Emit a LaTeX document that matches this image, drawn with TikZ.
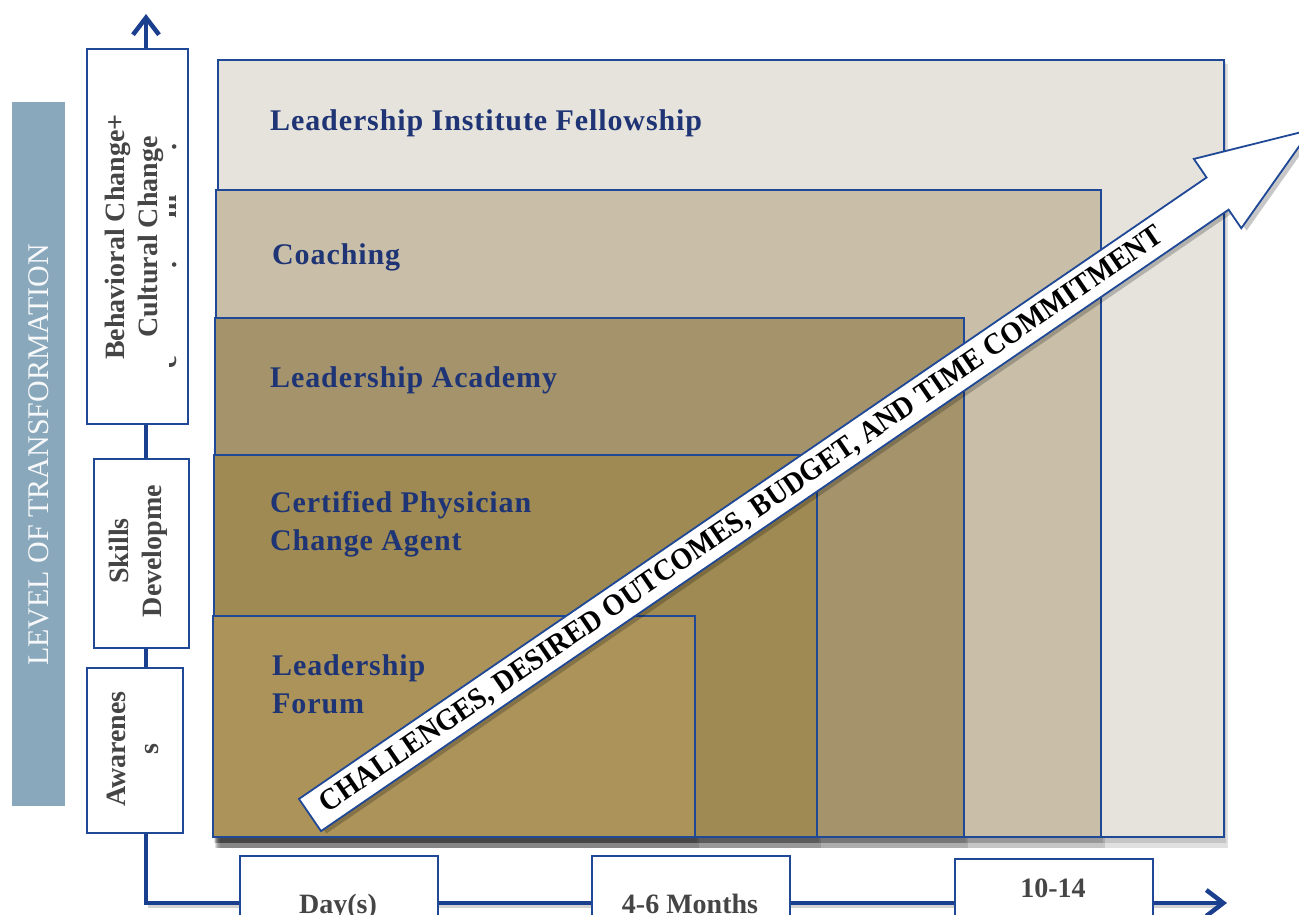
\documentclass[tikz,border=0pt]{standalone}
\usepackage{fontspec}
\usepackage{graphicx}
\setmainfont{Liberation Serif}
\newfontfamily\tierfont[LetterSpace=3]{Liberation Serif}
\usetikzlibrary{arrows.meta}

\definecolor{axisblue}{HTML}{1B3F8F}
\definecolor{edgeblue}{HTML}{1F4896}
\definecolor{labelblue}{HTML}{1E3474}
\definecolor{panelblue}{HTML}{8AA8BB}
\definecolor{levelgray}{HTML}{454545}
\definecolor{tierA}{HTML}{E6E3DC}
\definecolor{tierB}{HTML}{C9BFA8}
\definecolor{tierC}{HTML}{A5946B}
\definecolor{tierD}{HTML}{9E8A52}
\definecolor{tierE}{HTML}{AB935A}

\tikzset{
  tier/.style={draw=edgeblue, line width=1.8pt, anchor=north west, inner sep=0pt, outer sep=0pt},
  tiershadow/.style={fill=black, fill opacity=0.12},
  tierlabel/.style={anchor=north west, inner sep=0pt, text=labelblue,
    font=\tierfont\fontsize{30}{38}\selectfont\bfseries, align=left},
  levelbox/.style={draw=edgeblue, line width=1.6pt, fill=white, anchor=north west, inner sep=0pt},
  leveltext/.style={rotate=90, text=levelgray, inner sep=0pt,
    font=\fontsize{28}{33}\selectfont\bfseries, align=center},
  timetext/.style={anchor=base, text=levelgray, inner sep=0pt,
    font=\fontsize{28}{33}\selectfont\bfseries},
  axisline/.style={draw=axisblue, line width=4.5pt, line join=miter,
    {Straight Barb[length=17pt,width=26pt]}-{Straight Barb[length=17pt,width=26pt]}},
}

\begin{document}
\begin{tikzpicture}[x=1pt, y=-1pt]
  \useasboundingbox (0,0) rectangle (1299,914);
  \clip (0,0) rectangle (1299,914);

  % vertical title band
  \node[fill=panelblue, anchor=north west, inner sep=0pt, minimum width=53pt, minimum height=704pt]
    (band) at (12,102) {};
  \node[rotate=90, text=white!92!panelblue, inner sep=0pt, font=\fontsize{30}{32}\selectfont]
    (bandtext) at (39,455) {LEVEL OF TRANSFORMATION};

  % axes
  \coordinate (origin) at (146,903);
  \coordinate (ytip) at (146,14);
  \coordinate (xtip) at (1227,903);
  \draw[draw=black!35, line width=4pt, opacity=0.5] ([shift={(2,3)}]origin) -- ([shift={(-8,3)}]xtip);
  \draw[axisline] (ytip) -- (origin) -- (xtip);

  % nested programme tiers with their shadows
  \foreach \x/\y/\w/\h in {218/60/1006/777, 216/190/885/647, 215/318/749/519, 214/455/603/382, 213/616/482/221}{
    \fill[tiershadow] (\x+1,\y+2) rectangle (\x+\w+2,\y+\h+6);
    \fill[tiershadow] (\x+2,\y+4) rectangle (\x+\w+4,\y+\h+11);
  }
  \node[tier, fill=tierA, minimum width=1006pt, minimum height=777pt] (fellow) at (218,60) {};
  \node[tier, fill=tierB, minimum width=885pt, minimum height=647pt] (coach) at (216,190) {};
  \node[tier, fill=tierC, minimum width=749pt, minimum height=519pt] (academy) at (215,318) {};
  \node[tier, fill=tierD, minimum width=603pt, minimum height=382pt] (agent) at (214,455) {};
  \node[tier, fill=tierE, minimum width=482pt, minimum height=221pt] (forum) at (213,616) {};

  \node[tierlabel] (fellowlbl) at (270,109) {Leadership Institute Fellowship};
  \node[tierlabel] (coachlbl) at (272,243) {Coaching};
  \node[tierlabel] (academylbl) at (270,366) {Leadership Academy};
  \node[tierlabel] (agentlbl) at (270,491) {Certified Physician\\Change Agent};
  \node[tierlabel] (forumlbl) at (272,654) {Leadership\\Forum};

  % diagonal arrow
  \begin{scope}[shift={(310,815)}, rotate=34.4]
    \fill[black, opacity=0.22] ([shift={(3,5)}]0,-19.5) -- ++(1100,0) -- ++(0,-22.5) -- ++(113,42) -- ++(-113,42) -- ++(0,-22.5) -- ++(-1100,0) -- cycle;
    \draw[edgeblue, line width=1.8pt, fill=white, line join=miter]
      (0,-19.5) -- (1100,-19.5) -- (1100,-42) -- (1213,0) -- (1100,42) -- (1100,19.5) -- (0,19.5) -- cycle;
    \node[rotate=34.4, inner sep=0pt, text=black] (arrowtext) at (523,1)
      {\resizebox{1015pt}{20pt}{\bfseries CHALLENGES, DESIRED OUTCOMES, BUDGET, AND TIME COMMITMENT}};
  \end{scope}

  % level boxes on the vertical axis
  \node[levelbox, minimum width=101pt, minimum height=375pt] (cultural) at (86,48) {};
  \node[levelbox, minimum width=95pt, minimum height=189pt] (skills) at (93,458) {};
  \node[levelbox, minimum width=96pt, minimum height=165pt] (aware) at (86,667) {};
  \node[leveltext] (culturaltext) at (134,237) {Behavioral Change+\\Cultural Change};
  \node[leveltext] (skillstext) at (138,551) {Skills\\Developme};
  \node[leveltext] (awaretext) at (133,749) {Awarenes\\s};
  \begin{scope}
    \clip (169,100) rectangle (178,400);
    \node[leveltext, anchor=base] (frag1) at (176,147) {.};
    \node[leveltext, anchor=base] (frag2) at (176,207) {m};
    \node[leveltext, anchor=base] (frag3) at (176,265) {.};
    \node[leveltext, anchor=base] (frag4) at (176,362) {c};
  \end{scope}

  % duration boxes on the horizontal axis
  \node[levelbox, minimum width=198pt, minimum height=80pt] (days) at (239,855) {};
  \node[levelbox, minimum width=198pt, minimum height=80pt] (months) at (591,855) {};
  \node[levelbox, minimum width=198pt, minimum height=80pt] (year) at (954,858) {};
  \node[timetext] (daystext) at (338,913) {Day(s)};
  \node[timetext] (monthstext) at (690,913) {4-6 Months};
  \node[timetext] (yeartext) at (1053,897) {10-14};
\end{tikzpicture}
\end{document}
